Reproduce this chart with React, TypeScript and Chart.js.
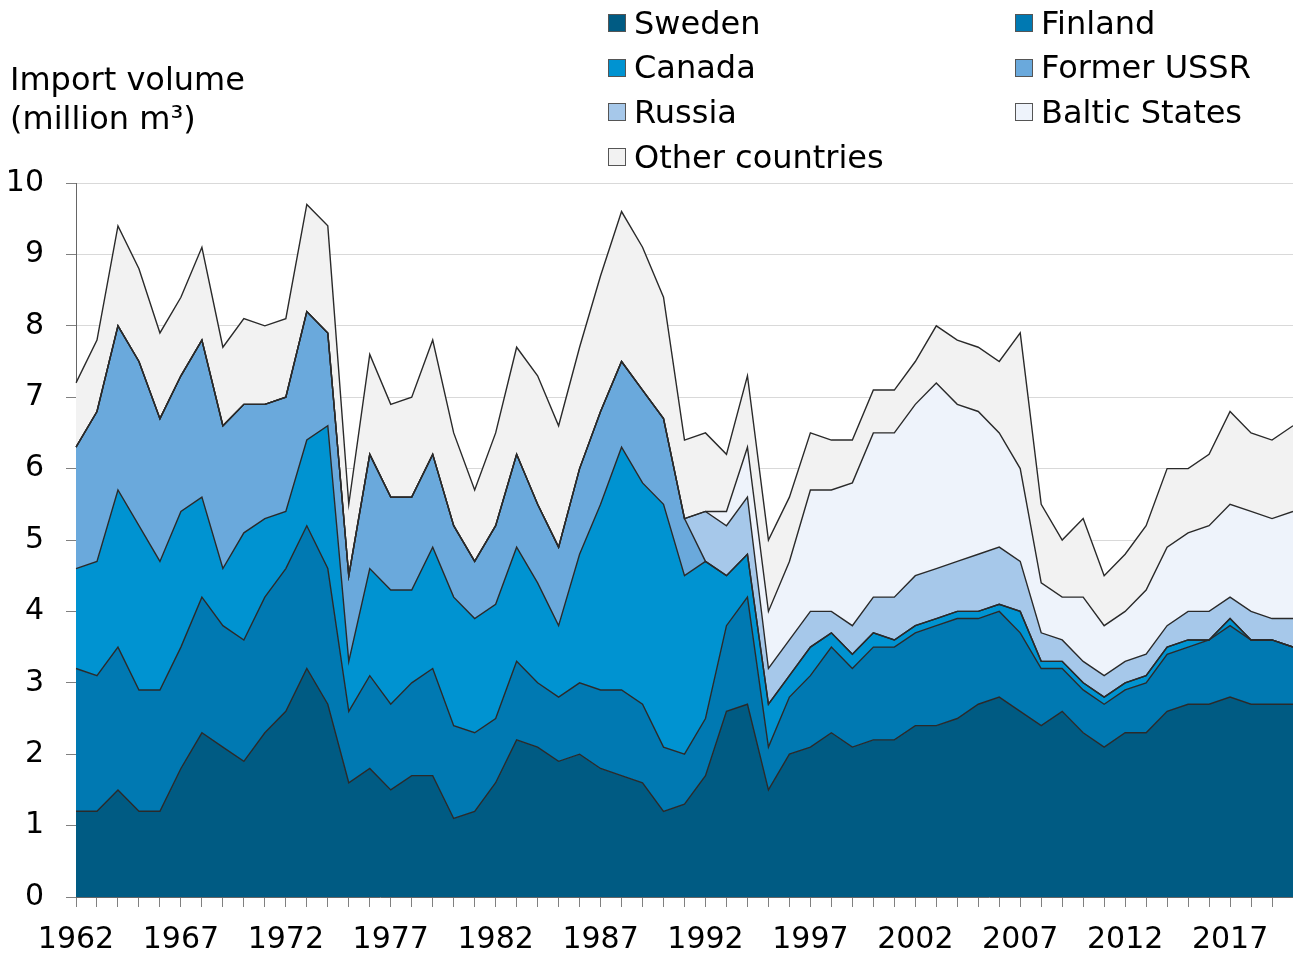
import React, { useEffect, useRef } from "react";
import { Chart, registerables } from "chart.js";

Chart.register(...registerables);

const years = [
  "1962", "1963", "1964", "1965", "1966", "1967", "1968", "1969", "1970", "1971",
  "1972", "1973", "1974", "1975", "1976", "1977", "1978", "1979", "1980", "1981",
  "1982", "1983", "1984", "1985", "1986", "1987", "1988", "1989", "1990", "1991",
  "1992", "1993", "1994", "1995", "1996", "1997", "1998", "1999", "2000", "2001",
  "2002", "2003", "2004", "2005", "2006", "2007", "2008", "2009", "2010", "2011",
  "2012", "2013", "2014", "2015", "2016", "2017", "2018", "2019", "2020",
];

const sweden = [
  1.2, 1.2, 1.5, 1.2, 1.2, 1.8, 2.3, 2.1, 1.9, 2.3,
  2.6, 3.2, 2.7, 1.6, 1.8, 1.5, 1.7, 1.7, 1.1, 1.2,
  1.6, 2.2, 2.1, 1.9, 2.0, 1.8, 1.7, 1.6, 1.2, 1.3,
  1.7, 2.6, 2.7, 1.5, 2.0, 2.1, 2.3, 2.1, 2.2, 2.2,
  2.4, 2.4, 2.5, 2.7, 2.8, 2.6, 2.4, 2.6, 2.3, 2.1,
  2.3, 2.3, 2.6, 2.7, 2.7, 2.8, 2.7, 2.7, 2.7,
];

const finland = [
  2.0, 1.9, 2.0, 1.7, 1.7, 1.7, 1.9, 1.7, 1.7, 1.9,
  2.0, 2.0, 1.9, 1.0, 1.3, 1.2, 1.3, 1.5, 1.3, 1.1,
  0.9, 1.1, 0.9, 0.9, 1.0, 1.1, 1.2, 1.1, 0.9, 0.7,
  0.8, 1.2, 1.5, 0.6, 0.8, 1.0, 1.2, 1.1, 1.3, 1.3,
  1.3, 1.4, 1.4, 1.2, 1.2, 1.1, 0.8, 0.6, 0.6, 0.6,
  0.6, 0.7, 0.8, 0.8, 0.9, 1.0, 0.9, 0.9, 0.8,
];

const canada = [
  1.4, 1.6, 2.2, 2.3, 1.8, 1.9, 1.4, 0.8, 1.5, 1.1,
  0.8, 1.2, 2.0, 0.7, 1.5, 1.6, 1.3, 1.7, 1.8, 1.6,
  1.6, 1.6, 1.4, 1.0, 1.8, 2.6, 3.4, 3.1, 3.4, 2.5,
  2.2, 0.7, 0.6, 0.6, 0.3, 0.4, 0.2, 0.2, 0.2, 0.1,
  0.1, 0.1, 0.1, 0.1, 0.1, 0.3, 0.1, 0.1, 0.1, 0.1,
  0.1, 0.1, 0.1, 0.1, 0.0, 0.1, 0.0, 0.0, 0.0,
];

const formerUssr = [
  1.7, 2.1, 2.3, 2.3, 2.0, 1.9, 2.2, 2.0, 1.8, 1.6,
  1.6, 1.8, 1.3, 1.2, 1.6, 1.3, 1.3, 1.3, 1.0, 0.8,
  1.1, 1.3, 1.1, 1.1, 1.2, 1.3, 1.2, 1.3, 1.2, 0.8,
  0, 0, 0, 0, 0, 0, 0, 0, 0, 0,
  0, 0, 0, 0, 0, 0, 0, 0, 0, 0,
  0, 0, 0, 0, 0, 0, 0, 0, 0,
];

const russia = [
  0, 0, 0, 0, 0, 0, 0, 0, 0, 0,
  0, 0, 0, 0, 0, 0, 0, 0, 0, 0,
  0, 0, 0, 0, 0, 0, 0, 0, 0, 0,
  0.7, 0.7, 0.8, 0.5, 0.5, 0.5, 0.3, 0.4, 0.5, 0.6,
  0.7, 0.7, 0.7, 0.8, 0.8, 0.7, 0.4, 0.3, 0.3, 0.3,
  0.3, 0.3, 0.3, 0.4, 0.4, 0.3, 0.4, 0.3, 0.4,
];

const balticStates = [
  0, 0, 0, 0, 0, 0, 0, 0, 0, 0,
  0, 0, 0, 0, 0, 0, 0, 0, 0, 0,
  0, 0, 0, 0, 0, 0, 0, 0, 0, 0,
  0.0, 0.2, 0.7, 0.8, 1.1, 1.7, 1.7, 2.0, 2.3, 2.3,
  2.4, 2.6, 2.2, 2.0, 1.6, 1.3, 0.7, 0.6, 0.9, 0.7,
  0.7, 0.9, 1.1, 1.1, 1.2, 1.3, 1.4, 1.4, 1.5,
];

const otherCountries = [
  0.9, 1.0, 1.4, 1.3, 1.2, 1.1, 1.3, 1.1, 1.2, 1.1,
  1.1, 1.5, 1.5, 1.0, 1.4, 1.3, 1.4, 1.6, 1.3, 1.0,
  1.3, 1.5, 1.8, 1.7, 1.7, 1.9, 2.1, 2.0, 1.7, 1.1,
  1.1, 0.8, 1.0, 1.0, 0.9, 0.8, 0.7, 0.6, 0.6, 0.6,
  0.6, 0.8, 0.9, 0.9, 1.0, 1.9, 1.1, 0.8, 1.1, 0.7,
  0.8, 0.9, 1.1, 0.9, 1.0, 1.3, 1.1, 1.1, 1.2,
];

const seriesNames = ["Sweden", "Finland", "Canada", "Former USSR", "Russia", "Baltic States", "Other countries"];
const seriesColors = ["#005b83", "#0079b2", "#0093d1", "#6aa9dc", "#a6c8ea", "#eef3fb", "#f2f2f2"];
const seriesData = [sweden, finland, canada, formerUssr, russia, balticStates, otherCountries];

const yTicks = [0, 1, 2, 3, 4, 5, 6, 7, 8, 9, 10];

const FONT = "'DejaVu Sans', Verdana, sans-serif";

export default function App() {
  const canvasRef = useRef<HTMLCanvasElement | null>(null);

  useEffect(() => {
    const canvas = canvasRef.current;
    if (!canvas) return;
    const chart = new Chart(canvas, {
      type: "line",
      data: {
        labels: years,
        datasets: seriesData.map((d, i) => ({
          label: seriesNames[i],
          data: d,
          backgroundColor: seriesColors[i],
          borderColor: "#2a2a2a",
          borderWidth: 1.4,
          pointRadius: 0,
          pointHoverRadius: 0,
          tension: 0,
          fill: i === 0 ? "origin" : "-1",
        })),
      },
      options: {
        animation: false,
        responsive: false,
        devicePixelRatio: 1,
        layout: { padding: { top: 183, right: 0, left: 0, bottom: 0 } },
        plugins: {
          legend: { display: false },
          tooltip: { enabled: false },
          filler: { drawTime: "beforeDatasetsDraw" },
        },
        scales: {
          x: {
            type: "category",
            offset: false,
            grid: {
              display: true,
              drawOnChartArea: false,
              drawTicks: true,
              tickLength: 10,
              tickColor: "#808080",
            },
            border: { display: true, color: "#666666", width: 1 },
            ticks: {
              autoSkip: false,
              maxRotation: 0,
              minRotation: 0,
              padding: 15,
              color: "#000000",
              font: { family: FONT, size: 30 },
              callback: (_v: any, idx: number) => (idx % 5 === 0 ? years[idx] : ""),
            },
            afterFit: (scale: any) => {
              scale.height = 62;
              scale.paddingRight = 0;
              scale.paddingLeft = 0;
            },
          },
          y: {
            stacked: true,
            min: 0,
            max: 10,
            afterBuildTicks: (scale: any) => {
              scale.ticks = yTicks.map((v) => ({ value: v }));
            },
            grid: {
              color: "#d9d9d9",
              lineWidth: 1,
              drawTicks: true,
              tickLength: 10,
              tickColor: "#808080",
            },
            border: { display: true, color: "#666666", width: 1 },
            ticks: {
              padding: 22,
              color: "#000000",
              font: { family: FONT, size: 30 },
            },
            afterFit: (scale: any) => {
              scale.width = 76;
              scale.paddingTop = 0;
              scale.paddingBottom = 0;
            },
          },
        },
      },
    });
    return () => chart.destroy();
  }, []);

  const legendRows = [
    [0, 1],
    [2, 3],
    [4, 5],
    [6],
  ];
  const colX = [608, 1015];
  const rowTop = [6.5, 51.2, 95.9, 140.6];

  return (
    <div
      style={{
        position: "fixed",
        left: 0,
        top: 0,
        width: 1293,
        height: 959,
        background: "#ffffff",
        fontFamily: FONT,
        color: "#000",
        overflow: "hidden",
      }}
    >
      <canvas ref={canvasRef} width={1293} height={959} style={{ position: "absolute", left: 0, top: 0, width: 1293, height: 959 }} />
      <div style={{ position: "absolute", left: 10, top: 60, fontSize: 32, lineHeight: "39px", whiteSpace: "nowrap" }}>
        Import volume
        <br />
        (million m³)
      </div>
      {legendRows.map((row, r) =>
        row.map((si, c) => (
          <div
            key={si}
            style={{
              position: "absolute",
              left: colX[c],
              top: rowTop[r],
              height: 32,
              whiteSpace: "nowrap",
            }}
          >
            <div
              style={{
                position: "absolute",
                left: 0,
                top: 7.5,
                width: 16,
                height: 16,
                background: seriesColors[si],
                border: "1px solid #555",
              }}
            />
            <div style={{ position: "absolute", left: 26, top: 0, fontSize: 32, lineHeight: "32px" }}>{seriesNames[si]}</div>
          </div>
        ))
      )}
    </div>
  );
}
